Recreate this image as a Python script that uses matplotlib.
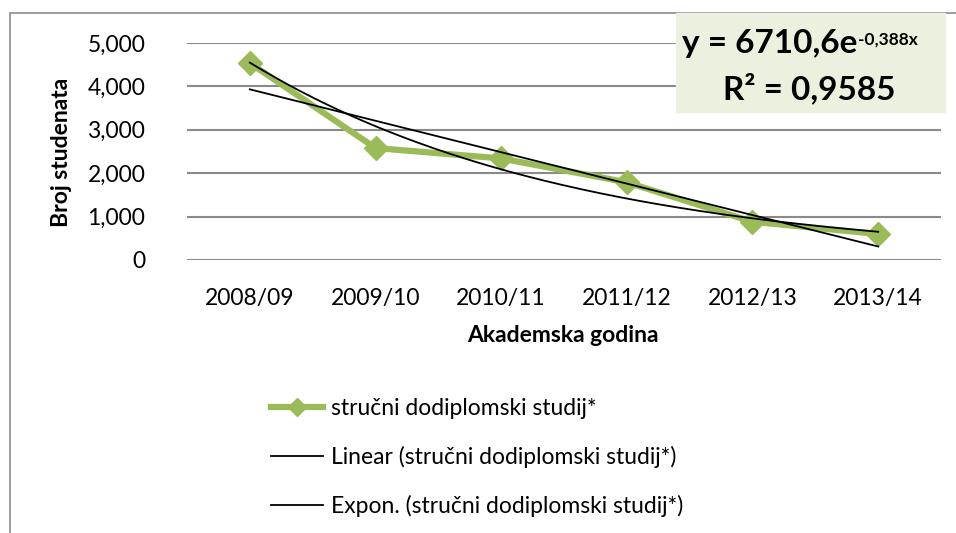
import numpy as np
import matplotlib
matplotlib.use("Agg")
import matplotlib.pyplot as plt
from matplotlib.patches import Rectangle
from matplotlib.ticker import FuncFormatter

# data
years = ["2008/09", "2009/10", "2010/11", "2011/12", "2012/13", "2013/14"]
students = [4540, 2580, 2340, 1790, 880, 600]
series_name = "stručni dodiplomski studij*"
eq_text = "y = 6710,6e"
eq_exp = "-0,388x"
r2_text = "R² = 0,9585"

plt.rcParams['font.family'] = ['Lato', 'DejaVu Sans']
FS = 16.5

W, H = 956, 533
fig = plt.figure(figsize=(W / 100, H / 100), dpi=100)

def px(x, y):
    return x / W, 1 - y / H

# chart area border (only left/top visible in the crop)
fig.patches.append(Rectangle(px(10, 600), 1.2, (600 - 13) / H, transform=fig.transFigure,
                             fill=False, edgecolor='#8c8c8c', linewidth=1.2))

x0, y0 = px(187, 260)
x1, y1 = px(941, 43)
ax = fig.add_axes([x0, y0, x1 - x0, y1 - y0])

x = np.arange(1, len(years) + 1)
y = np.array(students, dtype=float)

# trend lines fitted to the series, like Excel does
lin = np.polyfit(x, y, 1)
ex = np.polyfit(x, np.log(y), 1)
xs = np.linspace(1, len(years), 200)

ax.plot(x, y, color='#9bbb59', lw=4.5, marker='D', ms=12.5, mec='#9bbb59',
        label=series_name, clip_on=False, zorder=3, solid_joinstyle='round')
ax.plot(xs, np.polyval(lin, xs), color='black', lw=1.3,
        label=f"Linear ({series_name})", zorder=4)
ax.plot(xs, np.exp(np.polyval(ex, xs)), color='black', lw=1.3,
        label=f"Expon. ({series_name})", zorder=4)

ax.set_xlim(0.5, len(years) + 0.5)
ax.set_ylim(0, 5000)
ax.set_yticks(range(0, 5001, 1000))
ax.yaxis.set_major_formatter(FuncFormatter(lambda v, p: f"{int(v):,}"))
ax.set_xticks(x)
ax.set_xticklabels(years)
ax.grid(axis='y', color='#8a8a8a', lw=1.5)
ax.set_axisbelow(True)
for s in ax.spines.values():
    s.set_visible(False)
ax.tick_params(length=0, labelsize=FS, colors='black')
ax.tick_params(axis='y', pad=30)
ax.tick_params(axis='x', pad=20)

fig.text(*px(62, 152), "Broj studenata", rotation=90, ha='center', va='center',
         fontsize=FS, fontweight='bold')
fig.text(*px(563, 335), "Akademska godina", ha='center', va='center',
         fontsize=FS, fontweight='bold')

# equation label box
bx0, by0 = px(676, 112)
fig.patches.append(Rectangle((bx0, by0), (945 - 676) / W, (112 - 13) / H,
                             transform=fig.transFigure, color='#ebf1de', zorder=5))
t = fig.text(*px(682, 44), eq_text, ha='left', va='center', fontsize=24,
             fontweight='bold', zorder=6)
fig.canvas.draw()
bb = t.get_window_extent(fig.canvas.get_renderer()).transformed(fig.transFigure.inverted())
fig.text(bb.x1 + 1 / W, bb.y1 - 2 / H, eq_exp, ha='left', va='top',
         fontsize=12.5, fontweight='bold', zorder=6)
fig.text(*px(809, 88), r2_text, ha='center', va='center', fontsize=24,
         fontweight='bold', zorder=6)

h, l = ax.get_legend_handles_labels()
leg = fig.legend(h, l, loc='upper left', bbox_to_anchor=px(250, 377), frameon=False,
                 fontsize=FS, handlelength=2.3, labelspacing=1.18, handletextpad=0.35,
                 markerscale=0.75)

fig.savefig("out.png", dpi=100)
